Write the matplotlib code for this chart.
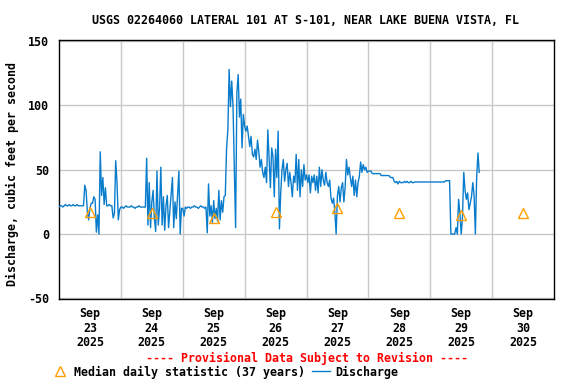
import matplotlib
matplotlib.use("Agg")
import matplotlib.pyplot as plt
from matplotlib.lines import Line2D
import pandas as pd

# ---------------- data (30-minute discharge, cfs) ----------------
sep23 = [21, 22, 22, 21, 22, 23, 22, 22, 23, 22, 22, 23, 22, 22, 23, 22, 22, 22, 22,
         22, 38, 34, 17, 11, 20, 24, 24, 29, 27, 1.5, 15, 0, 64, 30, 44, 23, 36, 22, 22,
         23, 22, 22, 12.5, 16, 57, 40, 11, 19]
sep24 = [21, 21, 20, 21, 22, 21, 21, 21, 22, 21, 21, 20, 21, 21, 22, 21, 21, 21, 21,
         21, 59, 7, 40, 5, 25, 34, 12, 2, 49, 7, 20, 52, 7, 29, 3, 22, 30, 5, 18,
         30, 44, 5, 25, 12, 30, 49, 0, 20]
sep25 = [20, 14, 21, 20, 21, 21, 20, 21, 21, 22, 21, 21, 20, 21, 22, 21, 21, 20, 21,
         1, 39, 14, 22, 9, 26, 12, 20, 10, 34, 11, 26, 17, 29, 30, 67, 81, 128, 99, 119,
         99, 52, 5, 110, 124, 91, 105, 67, 93]
sep26 = [84, 80, 84, 76, 68, 76, 62, 60, 66, 58, 73, 64, 52, 58, 48, 44, 52, 40, 81, 58,
         36, 67, 60, 29, 66, 44, 80, 4, 32, 50, 58, 41, 50, 55, 37, 48, 40, 29, 45, 40,
         62, 34, 58, 29, 50, 37, 54, 42]
sep27 = [46, 40, 46, 32, 45, 40, 46, 34, 45, 32, 52, 37, 50, 42, 38, 48, 40, 37, 42, 28,
         24, 28, 17, 0, 30, 37, 25, 36, 40, 25, 37, 58, 46, 52, 44, 37, 45, 30, 42, 29,
         40, 45, 56, 48, 54, 50, 52, 48]
sep28 = [49, 49, 49, 47, 47, 47, 47, 47, 47, 47, 45.5, 45.5, 45.5, 45.5, 45.5, 45.5, 45.5,
         44, 44, 44, 41, 40, 41, 39, 41, 40, 40, 40, 41, 40, 41, 40, 40, 41, 40, 40,
         40.5, 40.5, 40.5, 40.5, 40.5, 40.5, 40.5, 40.5, 40.5, 40.5, 40.5, 40.5]
sep29 = [40.5, 40.5, 40.5, 40.5, 40.5, 40.5, 40.5, 40.5, 40.5, 40.5, 40.5, 40.5,
         41.5, 41.5, 41.5, 41.5, 0, 0, 0, 0, 5, 0, 27, 16, 0, 13, 48, 34, 27, 32,
         19, 24, 29, 40, 30, 0, 44, 63, 48]

median_vals = [17.5, 16, 12.5, 17, 20, 16, 15, 16]

tick_labels = ["Sep\n23\n2025", "Sep\n24\n2025", "Sep\n25\n2025", "Sep\n26\n2025",
               "Sep\n27\n2025", "Sep\n28\n2025", "Sep\n29\n2025", "Sep\n30\n2025"]

title = "USGS 02264060 LATERAL 101 AT S-101, NEAR LAKE BUENA VISTA, FL"
ylabel = "Discharge, cubic feet per second"

# ---------------- build series ----------------
values = sep23 + sep24 + sep25 + sep26 + sep27 + sep28 + sep29
times = pd.date_range("2025-09-23 00:00", periods=len(values), freq="30min")
med_times = pd.date_range("2025-09-23 12:00", periods=len(median_vals), freq="D")

MONO = "DejaVu Sans Mono"
FS = 8.4
BLUE = "#0a7ccc"
ORANGE = "#ffa000"

fig = plt.figure(figsize=(5.76, 3.84), dpi=100)
ax = fig.add_axes([59 / 576, 1 - 299 / 384, (554 - 59) / 576, (299 - 39.5) / 384])

ax.plot(times, values, color=BLUE, lw=1.0, zorder=3)
ax.plot(med_times, median_vals, linestyle="none", marker="^", markersize=7.5,
        markerfacecolor="none", markeredgecolor=ORANGE, markeredgewidth=1.0, zorder=4)

ax.set_xlim(pd.Timestamp("2025-09-23"), pd.Timestamp("2025-10-01"))
ax.set_ylim(-50.5, 151.3)

ax.set_yticks([-50, 0, 50, 100, 150])
ax.set_yticklabels(["-50", "0", "50", "100", "150"], fontfamily=MONO,
                   fontweight="bold", fontsize=FS)
ax.set_xticks(med_times)
ax.set_xticklabels(tick_labels, fontfamily=MONO, fontweight="bold", fontsize=FS,
                   linespacing=1.15)
ax.set_xticks(pd.date_range("2025-09-24", periods=7, freq="D"), minor=True)
ax.tick_params(axis="both", which="both", length=0)
ax.tick_params(axis="y", pad=7)
ax.tick_params(axis="x", pad=6)

ax.grid(axis="y", which="major", color="#c8c8c8", lw=1.0, zorder=0)
ax.grid(axis="x", which="minor", color="#c8c8c8", lw=1.0, zorder=0)
ax.grid(axis="x", which="major", visible=False)
for s in ax.spines.values():
    s.set_color("black")
    s.set_linewidth(1.0)

fig.text(306 / 576, 1 - 20 / 384, title, ha="center", va="center",
         fontfamily=MONO, fontweight="bold", fontsize=FS)
fig.text(12 / 576, 1 - 174 / 384, ylabel, ha="center", va="center", rotation=90,
         fontfamily=MONO, fontweight="bold", fontsize=FS)
fig.text(307 / 576, 1 - 358 / 384, "---- Provisional Data Subject to Revision ----",
         ha="center", va="center", color="red", fontfamily=MONO, fontweight="bold",
         fontsize=FS)

handles = [
    Line2D([], [], linestyle="none", marker="^", markersize=7.5, markerfacecolor="none",
           markeredgecolor=ORANGE, markeredgewidth=1.0),
    Line2D([], [], color=BLUE, lw=1.0),
]
fig.legend(handles, ["Median daily statistic (37 years)", "Discharge"],
           loc="center left", bbox_to_anchor=(51 / 576, 1 - 372 / 384), ncol=2,
           frameon=False, handlelength=1.5, handletextpad=0.5, columnspacing=0.6,
           prop={"family": MONO, "weight": "bold", "size": FS}, borderaxespad=0,
           borderpad=0)

fig.savefig("out.png", dpi=100)
